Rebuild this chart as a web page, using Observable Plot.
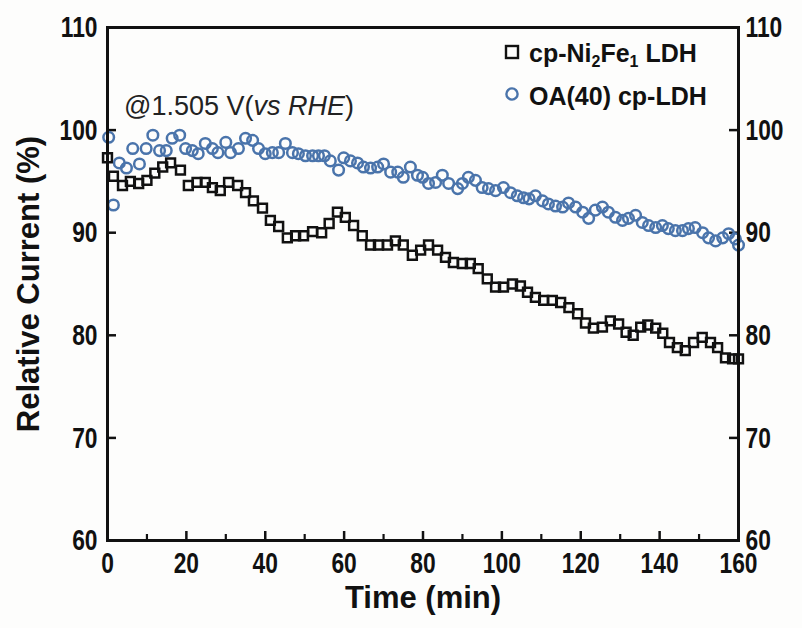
<!DOCTYPE html>
<html><head><meta charset="utf-8">
<script src="https://cdn.jsdelivr.net/npm/d3@7"></script>
<script src="https://cdn.jsdelivr.net/npm/@observablehq/plot@0.6"></script>
<style>
html,body{margin:0;padding:0;background:#fdfdfc;}
#wrap{position:relative;width:802px;height:628px;overflow:hidden;}
.ov{position:absolute;white-space:nowrap;line-height:1;}
.leg{font-family:"Liberation Sans",Arial,sans-serif;font-weight:bold;font-size:25px;color:#111;}
.leg sub{font-size:16px;vertical-align:-5px;line-height:0;}
.note{font-family:"Liberation Sans",Arial,sans-serif;font-size:27px;color:#222;}
</style></head><body><div id="wrap"></div>
<script>
// ---- data ----
const squareTime = [0,1.5,3.8,5.8,7.9,10,12,14,16,18.5,20.5,22.7,24.8,26.6,28.6,30.7,33,35,37,39.3,41.3,43.4,45.6,47.7,49.7,52,54.3,56.2,58.3,60.3,62.4,64.6,66.7,68.7,71,73,75,77.3,79.4,81.4,83.7,85.7,87.7,90,92,94,96.3,98.4,100.4,102.7,104.7,106.5,108.5,110.6,112.8,114.9,117,119.2,121.2,123.2,125.5,127.5,129.6,131.5,133.3,135.2,137,139,140.8,142.5,144.5,146.5,148.6,150.8,152.9,154.7,156.7,158.5,160];
const squareValue = [97.3,95.5,94.6,95.0,94.8,95.1,95.8,96.4,96.8,96.1,94.6,94.9,94.9,94.4,94.1,94.9,94.6,93.9,93.1,92.4,91.2,90.6,89.5,89.7,89.7,90.1,90.0,90.9,92.0,91.5,90.7,89.7,88.8,88.8,88.8,89.2,88.8,87.8,88.3,88.8,88.3,87.6,87.1,87.0,87.0,86.5,85.5,84.7,84.7,85.0,84.8,84.2,83.7,83.4,83.4,83.2,82.7,82.1,81.2,80.7,80.8,81.4,81.1,80.3,80.0,80.8,81.0,80.7,80.2,79.3,78.8,78.5,79.3,79.8,79.3,78.8,77.8,77.7,77.7];
const circleTime = [0.3,1.5,3,4.8,6.4,8.1,9.8,11.5,13.2,14.9,16.4,18.3,19.8,21.5,23,24.8,26.6,28,30,31.2,33.2,35,36.8,38.3,40,41.8,43.4,45.1,46.9,48.4,50.2,52,53.5,55,56.5,58.6,59.9,61.6,63.4,64.9,66.7,68.5,70,71.8,73.6,75,76.8,78.6,79.9,81.4,83.2,84.9,86.5,88.8,90,91.5,93.3,95,96.6,98.4,100.4,102.2,103.9,105.5,106.9,108.5,110.3,111.8,113.6,115.4,116.9,118.7,120.5,122,123.7,125.5,127,128.8,130.6,132.1,133.9,135.6,137.2,139,140.7,142.2,144,145.8,147.3,149,150.9,152.4,154.2,156,157.5,159.2,160];
const circleValue = [99.3,92.7,96.8,96.3,98.2,96.7,98.2,99.5,98.0,98.0,99.2,99.5,98.2,98.0,97.7,98.7,98.2,97.8,98.8,97.8,98.2,99.2,99.0,98.2,97.7,97.8,97.8,98.7,97.8,97.7,97.5,97.5,97.5,97.5,97.0,96.1,97.3,97.0,96.8,96.4,96.3,96.4,96.7,95.9,95.9,95.4,96.4,95.6,95.4,94.8,94.9,95.6,94.8,94.3,94.8,95.4,95.1,94.4,94.3,94.1,94.4,93.9,93.6,93.4,93.3,93.6,93.1,92.8,92.6,92.5,92.9,92.5,92.0,91.4,92.2,92.5,92.0,91.5,91.2,91.4,91.7,91.0,90.7,90.5,90.7,90.4,90.2,90.2,90.4,90.5,90.0,89.5,89.2,89.5,89.9,89.4,88.8];
const xTicks = [0,20,40,60,80,100,120,140,160];
const xMinorTicks = [10,30,50,70,90,110,130,150];
const yTicks = [60,70,80,90,100,110];
const xTitle = "Time (min)";
const yTitle = "Relative Current (%)";

// ---- build ----
const squares = squareTime.map((t,i)=>({t, v: squareValue[i]}));
const circles = circleTime.map((t,i)=>({t, v: circleValue[i]}));
const W=802,H=628,mL=107,mR=64,mT=27,mB=88;
const fw=W-mL-mR, fh=H-mT-mB;
const blue="#4a74ab";
const tickFont={fontFamily:'"Liberation Sans",Arial,sans-serif',fontWeight:"bold",fontSize:30};
const titleFont={fontFamily:'"Liberation Sans",Arial,sans-serif',fontWeight:"bold",fontSize:31};

const chart = Plot.plot({
  width:W,height:H,marginLeft:mL,marginRight:mR,marginTop:mT,marginBottom:mB,
  style:{background:"transparent",color:"#111",overflow:"visible"},
  x:{domain:[0,160],label:null},
  y:{domain:[60,110],label:null},
  marks:[
    Plot.axisX(xTicks,{tickSize:0,tickPadding:11,...tickFont,label:null}),
    Plot.axisX({ticks:[],tickSize:0,label:xTitle,labelAnchor:"center",labelArrow:"none",labelOffset:67,...titleFont}),
    Plot.axisY(yTicks,{anchor:"left",tickSize:0,tickPadding:10,...tickFont,label:null}),
    Plot.axisY(yTicks,{anchor:"right",tickSize:0,tickPadding:7,...tickFont,label:null}),
    Plot.axisY({anchor:"left",ticks:[],tickSize:0,label:yTitle,labelAnchor:"center",labelArrow:"none",labelOffset:91,...titleFont}),
    Plot.tickX(xTicks,{x:d=>d,insetTop:fh-9,stroke:"#111",strokeWidth:2.5}),
    Plot.tickX(xMinorTicks,{x:d=>d,insetTop:fh-6,stroke:"#111",strokeWidth:2.2}),
    Plot.tickY(yTicks,{y:d=>d,insetRight:fw-9,stroke:"#111",strokeWidth:2.5}),
    Plot.tickY(yTicks,{y:d=>d,insetLeft:fw-9,stroke:"#111",strokeWidth:2.5}),
    Plot.dot(squares,{x:"t",y:"v",symbol:"square",r:5,stroke:"#111",strokeWidth:2.5,fill:"none"}),
    Plot.dot(circles,{x:"t",y:"v",symbol:"circle",r:5.3,stroke:blue,strokeWidth:2.5,fill:"none"}),
    Plot.frame({stroke:"#111",strokeWidth:3})
  ]
});
// condensed tick digits, as in the reference
d3.select(chart).selectAll('g[aria-label$="tick label"] text').each(function(){
  const t=this.getAttribute("transform")||"";
  this.setAttribute("transform",t+" scale(0.76,1)");
});
const wrap=document.getElementById("wrap");
wrap.appendChild(chart);

function ov(html,cls,left,top){const d=document.createElement("div");d.className="ov "+cls;d.innerHTML=html;d.style.left=left+"px";d.style.top=top+"px";wrap.appendChild(d);return d;}
ov('<svg width="16" height="16"><rect x="2" y="2" width="12" height="12" fill="none" stroke="#111" stroke-width="2.4"/></svg>',"",504,44);
ov('<svg width="16" height="16"><circle cx="8" cy="8" r="5.6" fill="none" stroke="'+blue+'" stroke-width="2.4"/></svg>',"",504,86);
ov('cp-Ni<sub>2</sub>Fe<sub>1</sub> LDH',"leg",529,41);
ov('OA(40) cp-LDH',"leg",529,84);
ov('@1.505 V(<i>vs RHE</i>)',"note",124,93);
</script>
</body></html>
